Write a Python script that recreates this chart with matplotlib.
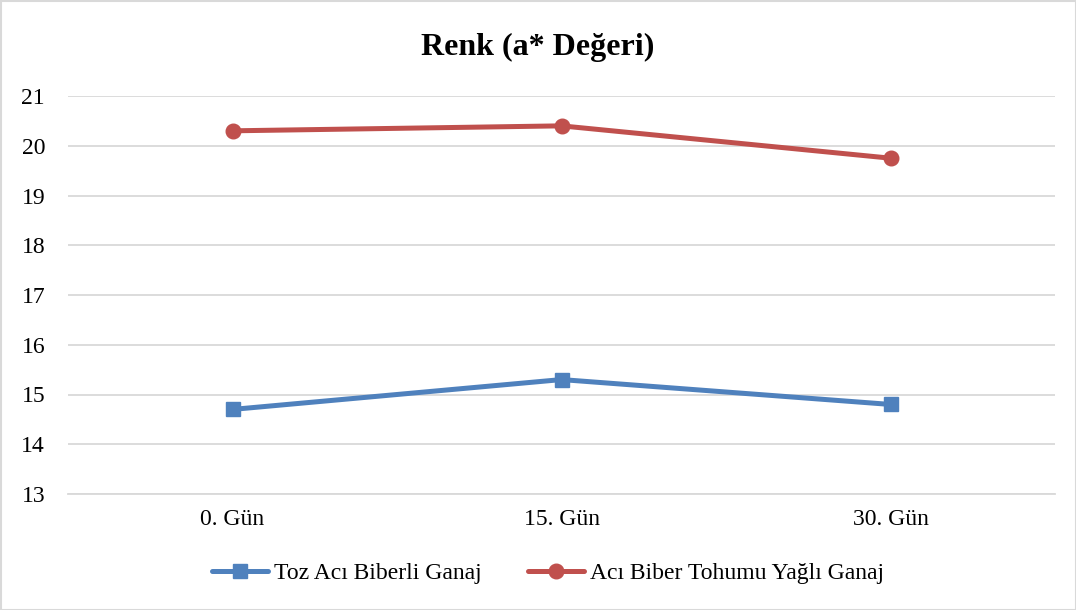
import matplotlib
matplotlib.use("Agg")
import matplotlib.pyplot as plt
from matplotlib.patches import Rectangle

categories = ["0. Gün", "15. Gün", "30. Gün"]
toz = [14.7, 15.3, 14.8]
tohum = [20.3, 20.4, 19.75]
series_names = ["Toz Acı Biberli Ganaj", "Acı Biber Tohumu Yağlı Ganaj"]
yticks = [13, 14, 15, 16, 17, 18, 19, 20, 21]

plt.rcParams['font.family'] = ['Liberation Serif', 'DejaVu Serif']

W, H = 1076, 610
fig = plt.figure(figsize=(W/100, H/100), dpi=100)
ax = fig.add_axes([68/W, 1-494/H, (1055-68)/W, (494-96)/H])

x = list(range(len(categories)))
ax.plot(x, toz, color="#4F81BD", lw=3.6, marker="s", ms=10, label=series_names[0], solid_capstyle="round")
ax.plot(x, tohum, color="#C0504D", lw=3.6, marker="o", ms=10.5, label=series_names[1], solid_capstyle="round")

ax.set_xlim(-0.5, 2.5)
ax.set_ylim(13, 21)
ax.set_yticks(yticks)
ax.set_xticks(x)
ax.set_xticklabels(categories)
ax.grid(axis="y", color="#D9D9D9", lw=1.3)
ax.set_axisbelow(True)
for s in ["top", "right", "left"]:
    ax.spines[s].set_visible(False)
ax.spines["bottom"].set_color("#D9D9D9")
ax.spines["bottom"].set_linewidth(1.3)
ax.tick_params(axis="both", length=0, labelsize=17, colors="black")
ax.tick_params(axis="y", pad=16.5)
ax.tick_params(axis="x", pad=11)

fig.text(0.5, 1-47/H, "Renk (a* Değeri)", ha="center", va="center", fontsize=23, fontweight="bold")

fig.legend(loc="center", bbox_to_anchor=(548/W, 1-573/H), ncol=2, frameon=False,
           fontsize=17, handlelength=2.35, columnspacing=2.0, handletextpad=0.25)

fig.patches.append(Rectangle((0.5/W, 0.5/H), 1-1/W, 1-1/H, transform=fig.transFigure,
                             fill=False, edgecolor="#D9D9D9", lw=1.5))

fig.savefig("out.png", dpi=100)
